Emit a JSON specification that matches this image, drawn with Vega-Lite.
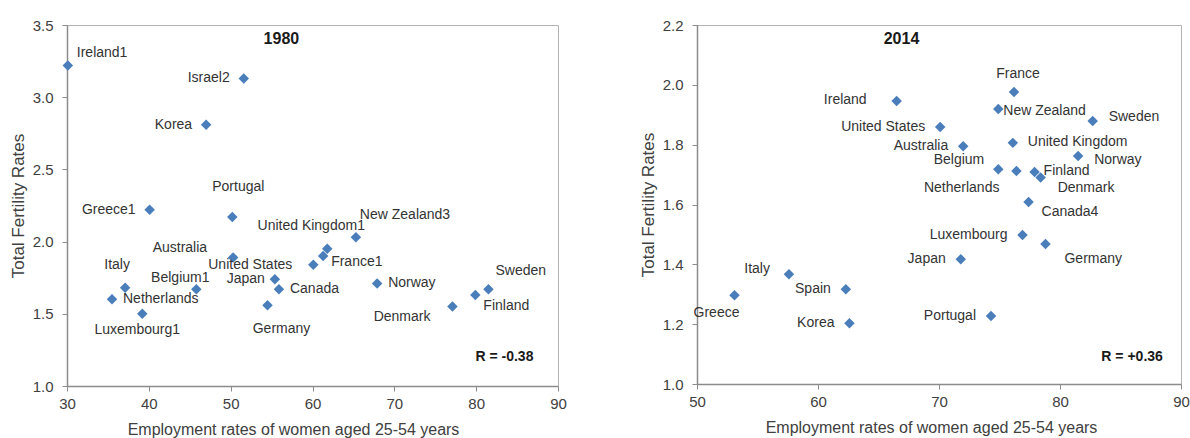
{
  "$schema": "https://vega.github.io/schema/vega-lite/v6.json",
  "background": "white",
  "padding": {"left": 8, "top": 17, "right": 2, "bottom": 0},
  "bounds": "flush",
  "spacing": 139,
  "datasets": {
    "y1980": [
      {"country": "Ireland1", "employment": 30.1, "tfr": 3.22},
      {"country": "Israel2", "employment": 51.6, "tfr": 3.13},
      {"country": "Korea", "employment": 47.0, "tfr": 2.81},
      {"country": "Greece1", "employment": 40.1, "tfr": 2.22},
      {"country": "Portugal", "employment": 50.2, "tfr": 2.17},
      {"country": "Australia", "employment": 50.3, "tfr": 1.89},
      {"country": "United States", "employment": 60.1, "tfr": 1.84},
      {"country": "United Kingdom1", "employment": 61.8, "tfr": 1.95},
      {"country": "France1", "employment": 61.3, "tfr": 1.9},
      {"country": "New Zealand3", "employment": 65.3, "tfr": 2.03},
      {"country": "Italy", "employment": 37.1, "tfr": 1.68},
      {"country": "Netherlands", "employment": 35.5, "tfr": 1.6},
      {"country": "Luxembourg1", "employment": 39.2, "tfr": 1.5},
      {"country": "Belgium1", "employment": 45.8, "tfr": 1.67},
      {"country": "Japan", "employment": 55.4, "tfr": 1.74},
      {"country": "Canada", "employment": 55.9, "tfr": 1.67},
      {"country": "Germany", "employment": 54.5, "tfr": 1.56},
      {"country": "Norway", "employment": 67.9, "tfr": 1.71},
      {"country": "Denmark", "employment": 77.1, "tfr": 1.55},
      {"country": "Finland", "employment": 79.9, "tfr": 1.63},
      {"country": "Sweden", "employment": 81.5, "tfr": 1.67}
    ],
    "y2014": [
      {"country": "Ireland", "employment": 66.5, "tfr": 1.946},
      {"country": "France", "employment": 76.2, "tfr": 1.976},
      {"country": "New Zealand", "employment": 74.9, "tfr": 1.919},
      {"country": "Sweden", "employment": 82.7, "tfr": 1.879},
      {"country": "United States", "employment": 70.1, "tfr": 1.859},
      {"country": "Australia", "employment": 72.0, "tfr": 1.795},
      {"country": "United Kingdom", "employment": 76.1, "tfr": 1.806},
      {"country": "Norway", "employment": 81.5, "tfr": 1.762},
      {"country": "Belgium", "employment": 74.9, "tfr": 1.718},
      {"country": "Netherlands", "employment": 76.4, "tfr": 1.712},
      {"country": "Finland", "employment": 77.9, "tfr": 1.709},
      {"country": "Denmark", "employment": 78.4, "tfr": 1.69},
      {"country": "Canada4", "employment": 77.4, "tfr": 1.608},
      {"country": "Luxembourg", "employment": 76.9, "tfr": 1.498},
      {"country": "Germany", "employment": 78.8, "tfr": 1.468},
      {"country": "Japan", "employment": 71.8, "tfr": 1.417},
      {"country": "Portugal", "employment": 74.3, "tfr": 1.227},
      {"country": "Italy", "employment": 57.6, "tfr": 1.367},
      {"country": "Greece", "employment": 53.1, "tfr": 1.297},
      {"country": "Spain", "employment": 62.3, "tfr": 1.317},
      {"country": "Korea", "employment": 62.6, "tfr": 1.203}
    ],
    "notes": [
      {"panel": "1980", "kind": "year", "label": "1980"},
      {"panel": "1980", "kind": "r", "label": "R = -0.38"},
      {"panel": "2014", "kind": "year", "label": "2014"},
      {"panel": "2014", "kind": "r", "label": "R = +0.36"}
    ]
  },
  "hconcat": [
    {
      "width": 491,
      "height": 361,
      "layer": [
        {
          "data": {"name": "y1980"},
          "encoding": {
            "x": {"field": "employment", "type": "quantitative", "scale": {"domain": [30, 90], "nice": false, "zero": false},
              "axis": {"title": "Employment  rates of women aged 25-54 years", "values": [30, 40, 50, 60, 70, 80, 90], "titleX": 226}},
            "y": {"field": "tfr", "type": "quantitative", "scale": {"domain": [1, 3.5], "nice": false, "zero": false},
              "axis": {"title": "Total Fertility Rates", "values": [1, 1.5, 2, 2.5, 3, 3.5], "format": ".1f"}},
            "text": {"field": "country"}
          },
          "layer": [
            {"mark": {"type": "point", "shape": "diamond", "filled": true, "size": 110, "color": "#4a7ebb", "opacity": 1}},
            {"mark": {"type": "text", "align": "right", "dx": -14}, "transform": [{"filter": {"field": "country", "oneOf": ["Israel2", "Korea", "Greece1"]}}]},
            {"mark": {"type": "text", "align": "right", "dx": -10}, "transform": [{"filter": {"field": "country", "equal": "Japan"}}]},
            {"mark": {"type": "text", "align": "right", "dx": -21}, "transform": [{"filter": {"field": "country", "equal": "United States"}}]},
            {"mark": {"type": "text", "align": "left", "dx": 11}, "transform": [{"filter": {"field": "country", "oneOf": ["Netherlands", "Canada", "Norway"]}}]},
            {"mark": {"type": "text", "align": "left", "dx": 9, "dy": -12}, "transform": [{"filter": {"field": "country", "equal": "Ireland1"}}]},
            {"mark": {"type": "text", "align": "center", "dx": 6, "dy": -30}, "transform": [{"filter": {"field": "country", "equal": "Portugal"}}]},
            {"mark": {"type": "text", "align": "right", "dx": -26, "dy": -9}, "transform": [{"filter": {"field": "country", "equal": "Australia"}}]},
            {"mark": {"type": "text", "align": "center", "dx": -8, "dy": -23}, "transform": [{"filter": {"field": "country", "equal": "Italy"}}]},
            {"mark": {"type": "text", "align": "center", "dx": -5, "dy": 16}, "transform": [{"filter": {"field": "country", "equal": "Luxembourg1"}}]},
            {"mark": {"type": "text", "align": "center", "dx": -16, "dy": -11}, "transform": [{"filter": {"field": "country", "equal": "Belgium1"}}]},
            {"mark": {"type": "text", "align": "center", "dx": 14, "dy": 24}, "transform": [{"filter": {"field": "country", "equal": "Germany"}}]},
            {"mark": {"type": "text", "align": "center", "dx": -16, "dy": -23}, "transform": [{"filter": {"field": "country", "equal": "United Kingdom1"}}]},
            {"mark": {"type": "text", "align": "left", "dx": 8, "dy": 6}, "transform": [{"filter": {"field": "country", "equal": "France1"}}]},
            {"mark": {"type": "text", "align": "left", "dx": 4, "dy": -22}, "transform": [{"filter": {"field": "country", "equal": "New Zealand3"}}]},
            {"mark": {"type": "text", "align": "right", "dx": -22, "dy": 10}, "transform": [{"filter": {"field": "country", "equal": "Denmark"}}]},
            {"mark": {"type": "text", "align": "left", "dx": 8, "dy": 11}, "transform": [{"filter": {"field": "country", "equal": "Finland"}}]},
            {"mark": {"type": "text", "align": "left", "dx": 7, "dy": -18}, "transform": [{"filter": {"field": "country", "equal": "Sweden"}}]}
          ]
        },
        {
          "data": {"name": "notes"},
          "transform": [{"filter": "datum.panel == '1980' && datum.kind == 'year'"}],
          "mark": {"type": "text", "align": "center", "fontWeight": "bold", "fontSize": 16, "color": "#1a1a1a"},
          "encoding": {"x": {"datum": 56.2, "type": "quantitative"}, "y": {"datum": 3.4, "type": "quantitative"}, "text": {"field": "label", "type": "nominal"}}
        },
        {
          "data": {"name": "notes"},
          "transform": [{"filter": "datum.panel == '1980' && datum.kind == 'r'"}],
          "mark": {"type": "text", "align": "right", "fontWeight": "bold", "fontSize": 14, "color": "#1a1a1a"},
          "encoding": {"x": {"datum": 87.0, "type": "quantitative"}, "y": {"datum": 1.2, "type": "quantitative"}, "text": {"field": "label", "type": "nominal"}}
        }
      ]
    },
    {
      "width": 484,
      "height": 359,
      "layer": [
        {
          "data": {"name": "y2014"},
          "encoding": {
            "x": {"field": "employment", "type": "quantitative", "scale": {"domain": [50, 90], "nice": false, "zero": false},
              "axis": {"title": "Employment  rates of women aged 25-54 years", "values": [50, 60, 70, 80, 90], "titleX": 234}},
            "y": {"field": "tfr", "type": "quantitative", "scale": {"domain": [1, 2.2], "nice": false, "zero": false},
              "axis": {"title": "Total Fertility Rates", "values": [1, 1.2, 1.4, 1.6, 1.8, 2, 2.2], "format": ".1f"}},
            "text": {"field": "country"}
          },
          "layer": [
            {"mark": {"type": "point", "shape": "diamond", "filled": true, "size": 110, "color": "#4a7ebb", "opacity": 1}},
            {"mark": {"type": "text", "align": "right", "dx": -15}, "transform": [{"filter": {"field": "country", "oneOf": ["United States", "Australia", "Luxembourg", "Japan", "Portugal", "Spain", "Korea"]}}]},
            {"mark": {"type": "text", "align": "right", "dx": -30, "dy": -1}, "transform": [{"filter": {"field": "country", "equal": "Ireland"}}]},
            {"mark": {"type": "text", "align": "center", "dx": 4, "dy": -18}, "transform": [{"filter": {"field": "country", "equal": "France"}}]},
            {"mark": {"type": "text", "align": "left", "dx": 5, "dy": 2}, "transform": [{"filter": {"field": "country", "equal": "New Zealand"}}]},
            {"mark": {"type": "text", "align": "left", "dx": 16, "dy": -4}, "transform": [{"filter": {"field": "country", "equal": "Sweden"}}]},
            {"mark": {"type": "text", "align": "left", "dx": 15, "dy": -1}, "transform": [{"filter": {"field": "country", "equal": "United Kingdom"}}]},
            {"mark": {"type": "text", "align": "left", "dx": 16, "dy": 4}, "transform": [{"filter": {"field": "country", "equal": "Norway"}}]},
            {"mark": {"type": "text", "align": "right", "dx": -14, "dy": -9}, "transform": [{"filter": {"field": "country", "equal": "Belgium"}}]},
            {"mark": {"type": "text", "align": "right", "dx": -17, "dy": 17}, "transform": [{"filter": {"field": "country", "equal": "Netherlands"}}]},
            {"mark": {"type": "text", "align": "left", "dx": 9, "dy": -1}, "transform": [{"filter": {"field": "country", "equal": "Finland"}}]},
            {"mark": {"type": "text", "align": "left", "dx": 17, "dy": 10}, "transform": [{"filter": {"field": "country", "equal": "Denmark"}}]},
            {"mark": {"type": "text", "align": "left", "dx": 13, "dy": 10}, "transform": [{"filter": {"field": "country", "equal": "Canada4"}}]},
            {"mark": {"type": "text", "align": "left", "dx": 19, "dy": 15}, "transform": [{"filter": {"field": "country", "equal": "Germany"}}]},
            {"mark": {"type": "text", "align": "right", "dx": -19, "dy": -5}, "transform": [{"filter": {"field": "country", "equal": "Italy"}}]},
            {"mark": {"type": "text", "align": "center", "dx": -18, "dy": 18}, "transform": [{"filter": {"field": "country", "equal": "Greece"}}]}
          ]
        },
        {
          "data": {"name": "notes"},
          "transform": [{"filter": "datum.panel == '2014' && datum.kind == 'year'"}],
          "mark": {"type": "text", "align": "center", "fontWeight": "bold", "fontSize": 16, "color": "#1a1a1a"},
          "encoding": {"x": {"datum": 66.9, "type": "quantitative"}, "y": {"datum": 2.153, "type": "quantitative"}, "text": {"field": "label", "type": "nominal"}}
        },
        {
          "data": {"name": "notes"},
          "transform": [{"filter": "datum.panel == '2014' && datum.kind == 'r'"}],
          "mark": {"type": "text", "align": "right", "fontWeight": "bold", "fontSize": 14, "color": "#1a1a1a"},
          "encoding": {"x": {"datum": 88.5, "type": "quantitative"}, "y": {"datum": 1.09, "type": "quantitative"}, "text": {"field": "label", "type": "nominal"}}
        }
      ]
    }
  ],
  "config": {
    "font": "Liberation Sans",
    "view": {"stroke": "#b3b3b3", "strokeWidth": 1},
    "text": {"font": "Liberation Sans", "fontSize": 14, "color": "#333333", "baseline": "middle"},
    "axis": {
      "grid": false,
      "domainColor": "#8c8c8c",
      "domainWidth": 1.5,
      "tickColor": "#8c8c8c",
      "tickSize": 5,
      "labelFont": "Liberation Sans",
      "labelFontSize": 15,
      "labelColor": "#404040",
      "labelPadding": 9,
      "titleFont": "Liberation Sans",
      "titleFontWeight": "normal",
      "titleColor": "#404040"
    },
    "axisX": {"labelPadding": 5, "titlePadding": 10, "titleFontSize": 16, "labelFlush": false},
    "axisY": {"titlePadding": 5, "titleFontSize": 17, "labelFlush": false}
  }
}
